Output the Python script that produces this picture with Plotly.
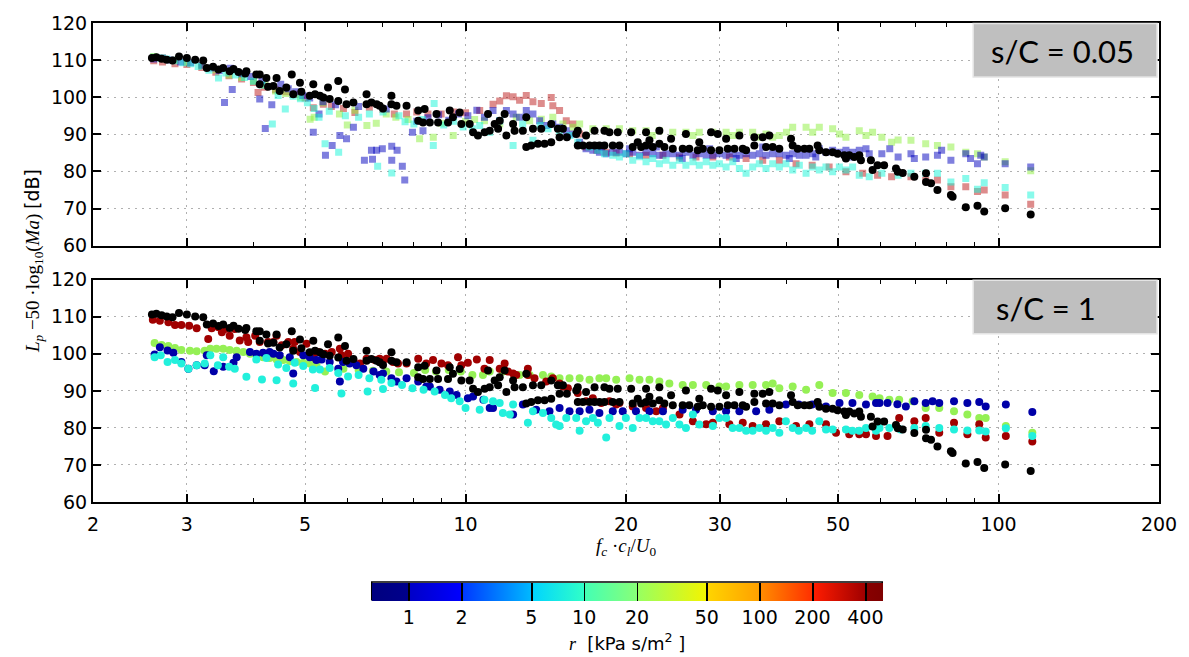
import numpy as np
import plotly.graph_objects as go

# ---------------- data (x = f_c*c_l/U_0, y = Lp - 50 log10(Ma) [dB]) ----------------
black_ref = [(2.58,110.6),(2.63,110.8),(2.69,110.4),(2.75,110.1),(2.82,109.9),(2.90,111.0),(3.00,110.6),(3.11,110.1),(3.22,109.9),(3.27,107.9),(3.36,108.2),(3.44,107.5),(3.51,107.9),(3.61,107.0),(3.67,107.6),(3.75,106.8),(3.86,106.4),(3.88,107.0),(4.05,106.1),(4.11,106.1),(4.11,103.5),(4.23,105.2),(4.26,102.8),(4.36,103.0),(4.42,105.2),(4.48,101.7),(4.61,102.6),(4.72,106.1),(4.75,100.8),(4.89,103.9),(4.92,101.5),(5.10,100.4),(5.18,103.5),(5.22,100.8),(5.33,100.4),(5.41,99.9),(5.52,102.6),(5.56,99.5),(5.77,104.4),(5.77,99.0),(5.94,102.1),(5.98,98.1),(6.16,98.6),(6.52,100.8),(6.52,98.1),(6.66,98.6),(6.81,98.1),(6.90,97.7),(7.00,97.0),(7.26,100.4),(7.26,98.1),(7.42,97.7),(7.75,97.7),(8.15,96.4),(8.15,93.7),(8.32,93.2),(8.38,96.8),(8.57,93.2),(8.82,95.5),(8.88,93.2),(9.27,93.2),(9.34,96.4),(9.47,94.6),(9.75,95.9),(9.82,92.8),(10.18,92.8),(10.33,90.6),(10.55,89.7),(10.86,90.6),
             (11.02,95.5),(11.10,91.0),(11.34,92.8),(11.51,91.5),(11.59,93.7),(11.84,95.5),(11.93,89.7),(12.28,92.8),(12.36,91.0),(12.81,91.0),(13.00,94.6),(13.00,86.6),(13.28,87.0),(13.38,91.5),(13.67,87.5),(13.87,91.5),(14.07,87.5),(14.48,87.9),(14.48,92.8),(14.90,91.5),(15.01,89.2),(15.23,91.5),(15.49,89.2),(16.13,90.1),(16.24,91.0),(16.24,87.0),(16.60,87.0),(16.83,89.7),(17.08,87.0),(17.46,91.0),(17.46,87.0),(17.83,87.0),(18.22,91.0),(18.22,87.0),(18.62,90.6),(18.89,87.0),(19.30,90.6),(19.44,87.0),(20.45,90.6),(20.59,86.6),(21.04,87.9),(21.35,86.6),(21.81,90.6),(21.81,87.0),(22.13,88.4),(22.45,86.6),(23.10,91.0),(23.10,87.5),(23.61,86.6),(24.30,88.8),(24.48,86.1),(25.55,86.1),(25.91,90.1),(26.29,86.1),(27.26,85.7),(27.45,87.9),(27.87,86.1),(28.88,90.6),(28.88,85.7),(29.73,90.1),(29.94,85.7),(30.82,88.8),(31.04,86.1),(31.95,86.1),(32.64,89.7),(33.12,86.1),(33.60,85.7),(34.82,89.2),(34.82,87.0),(36.10,89.2),(36.62,86.6),(37.15,89.7),(37.69,86.6),(38.79,86.1),(40.80,88.8),(41.09,87.0),(41.99,86.1),(43.22,86.1),(44.16,86.1),(45.77,87.0),(46.10,85.7),(47.45,85.2),(48.83,85.2),(49.89,84.8),(51.35,84.4),(51.72,83.5),(52.47,84.4),(53.62,83.9),(54.79,84.4),(55.18,83.0),(57.61,83.0),(58.03,80.4),(59.30,81.7),
             (61.0,81.7),(64.2,80.8),(64.7,79.9),(66.1,79.6),(69.5,78.6),(73.1,79.5),(73.1,77.2),(74.7,76.8),(76.8,75.0),(81.4,73.7),(82.0,73.2),(86.8,70.4),(91.3,70.8),(94.0,69.2),(102.9,70.1),(114.9,68.4)]

# s/C = 0.05 (top panel)
top_navy = [(2.60,110.3),(2.70,110.6),(2.80,110.0),(2.92,109.5),(3.05,109.3),(3.20,108.6),(3.35,107.9),(3.45,107.2),(3.53,98.6),(3.62,107.8),(3.65,102.1),(3.80,106.3),(3.95,105.6),(4.11,99.5),(4.15,104.5),(4.21,91.6),(4.33,98.0),(4.50,103.5),(4.65,102.3),(4.80,101.5),(4.95,100.5),(5.10,99.8),(5.18,90.6),(5.31,95.5),(5.40,98.8),(5.46,84.4),(5.62,87.0),(5.70,98.0),(5.81,89.7),(5.98,88.8),(6.16,91.9),(6.30,97.5),(6.46,83.0),(6.66,85.7),(6.69,83.3),(6.81,85.7),(6.98,86.1),(7.10,96.8),(7.27,86.8),(7.27,83.0),(7.44,85.7),(7.61,81.4),(7.69,77.7),(7.95,90.6),(8.10,93.5),(8.32,91.0),(8.50,94.5),(8.90,95.3),(9.30,93.8),(9.70,95.5),(10.10,95.0),(10.50,96.5),(10.85,94.6),(11.26,96.4),(11.59,93.7),(11.93,96.4),(12.28,95.5),(12.63,94.6),(13.00,96.4),(13.38,95.5),(13.77,93.7),(14.17,92.4),(14.58,92.8),(15.01,91.9),(15.45,91.0),(15.90,90.1),(16.37,87.9),(16.83,86.1),(17.33,85.7),(17.83,85.2),(18.36,84.8),(18.89,85.2),(19.44,85.2),(20.01,84.8),(20.59,85.2),(21.20,84.4),(21.81,85.2),(22.45,84.8),(23.10,84.4),(23.78,84.8),(24.48,84.8),(25.19,84.4),(25.91,85.2),(26.70,84.4),(27.45,84.8),(28.28,84.4),(29.10,84.4),(29.94,84.8),(30.82,84.4),(31.72,84.8),(32.64,84.4),(33.60,84.8),(34.57,84.4),(35.58,84.8),(36.62,84.4),(37.69,84.8),(38.79,84.8),(39.92,84.4),(41.09,84.8),(42.29,84.4),(43.54,84.4),(44.80,84.8),(46.10,86.1),(47.45,85.2),(48.83,85.7),(50.27,85.2),(51.72,85.7),(53.24,85.2),(54.79,85.7),(57.20,84.8),(60.40,84.8),(64.80,83.9),(68.50,84.8),(73.00,83.9),(76.80,84.4),(81.40,83.0),(86.80,84.8),(91.30,82.1),(94.00,83.9),(102.9,82.1),(114.9,81.2),
            (18.0,86.6),(20.3,86.1),(22.8,86.6),(25.5,83.5),(28.7,86.1),(32.2,83.5),(36.1,86.6),(40.5,83.5),(45.4,83.9),(52.5,83.9),(56.4,86.1),(62.5,86.1),(69.5,83.5),(78.2,85.7),(88.6,83.5),(92.6,84.4)]

top_cyan = [(2.60,110.8),(2.68,110.5),(2.75,110.3),(2.85,109.8),(2.95,109.3),(3.05,109.0),(3.15,108.3),(3.30,107.3),(3.44,105.2),(3.55,106.5),(3.70,106.0),(3.85,105.3),(4.00,104.3),(4.15,103.3),(4.34,92.8),(4.45,100.5),(4.59,96.8),(4.75,100.3),(4.90,99.6),(5.05,98.5),(5.20,97.0),(5.31,94.6),(5.45,87.5),(5.55,96.2),(5.78,85.2),(5.95,95.0),(6.30,94.6),(6.60,95.5),(6.84,81.4),(7.00,96.0),(7.27,79.6),(7.50,95.0),(7.70,93.4),(8.00,92.8),(8.30,94.0),(8.70,87.0),(8.73,98.3),(9.10,92.5),(9.50,93.5),(9.90,92.0),(10.30,91.5),(10.63,92.4),(11.10,90.6),(11.59,93.7),(12.28,87.0),(12.80,92.8),(13.38,88.4),(13.80,92.4),(14.28,91.5),(15.00,91.0),(15.70,89.7),(16.24,87.9),(17.08,86.6),(17.70,85.7),(18.22,84.8),(18.89,84.4),(19.44,83.9),(20.00,84.8),(20.59,83.0),(21.20,84.0),(21.81,82.6),(22.45,83.5),(23.10,82.1),(23.78,83.0),(24.48,81.7),(25.19,83.0),(25.91,81.7),(26.70,82.6),(27.45,81.7),(28.28,82.6),(29.10,81.7),(29.94,82.1),(30.82,81.2),(31.72,82.6),(32.64,80.8),(33.60,79.5),(34.57,81.2),(35.58,82.1),(36.62,80.8),(37.69,82.1),(38.79,81.2),(39.92,82.1),(41.09,80.4),(42.29,81.7),(43.54,79.5),(44.80,81.2),(46.10,80.4),(47.45,81.2),(48.83,79.9),(50.27,81.2),(51.72,80.4),(53.24,81.2),(54.79,79.0),(57.20,78.6),(60.40,79.5),(64.80,79.0),(68.50,79.5),(73.00,79.5),(76.80,79.5),(81.40,77.2),(86.80,78.1),(91.30,75.2),(94.00,77.0),(102.9,75.7),(114.9,73.7)]

top_green = [(2.60,111.0),(2.70,110.6),(2.85,110.0),(3.00,109.5),(3.20,108.6),(3.40,107.4),(3.60,106.0),(3.80,105.3),(4.00,104.4),(4.20,103.3),(4.40,101.7),(4.60,101.0),(4.90,100.0),(5.11,94.1),(5.20,94.6),(5.40,98.5),(5.80,95.5),(6.00,92.5),(6.20,96.5),(6.53,92.4),(6.80,93.0),(7.10,95.5),(7.40,94.6),(7.80,94.0),(8.20,88.8),(8.70,89.2),(9.00,93.0),(9.48,89.7),(10.00,93.5),(10.40,94.0),(10.85,93.7),(11.59,92.8),(12.45,94.6),(13.19,93.7),(13.87,94.1),(14.58,94.6),(15.23,92.8),(15.90,91.9),(16.37,92.8),(17.33,91.5),(18.36,91.5),(19.44,91.5),(20.59,91.0),(21.81,91.0),(23.10,91.0),(24.48,90.6),(25.91,90.6),(27.45,90.6),(29.10,90.6),(30.82,90.6),(32.64,90.6),(34.57,90.6),(36.62,90.1),(37.69,89.2),(38.79,89.7),(41.09,91.9),(43.54,91.9),(46.10,91.9),(48.83,91.5),(51.72,89.2),(54.79,91.0),(58.03,90.6),(60.40,89.2),(63.00,87.9),(64.80,88.5),(68.50,88.4),(73.00,87.5),(76.80,87.0),(81.40,86.6),(86.80,85.2),(91.30,84.8),(94.00,83.9),(102.9,82.6),(114.9,80.2),
             (22.4,89.7),(26.7,89.7),(31.7,89.7),(35.6,89.2),(40.0,90.6),(44.8,90.6),(50.3,90.1),(56.4,89.7)]

top_red = [(2.60,109.8),(2.70,109.5),(2.85,109.0),(3.00,108.8),(3.20,108.0),(3.40,106.7),(3.60,105.8),(3.80,104.9),(4.00,104.0),(4.08,101.3),(4.20,102.7),(4.40,102.0),(4.60,101.5),(4.80,100.8),(5.00,99.8),(5.18,97.2),(5.41,98.1),(5.60,97.5),(5.90,97.0),(6.20,95.9),(6.60,97.3),(7.00,96.7),(7.35,95.5),(7.75,95.5),(8.10,96.0),(8.50,95.5),(9.00,95.5),(9.50,96.0),(10.00,95.8),(10.63,96.4),(11.26,98.1),(11.59,99.0),(11.93,100.4),(12.28,100.1),(12.63,99.2),(13.00,100.5),(13.38,98.8),(13.87,98.3),(14.48,99.9),(14.58,97.7),(15.01,96.4),(15.45,93.7),(15.90,92.8),(16.37,90.1),(16.83,86.6),(17.64,85.7),(18.36,85.2),(19.17,85.0),(20.31,84.8),(21.81,84.4),(23.46,84.4),(25.19,83.9),(27.06,83.9),(29.10,83.9),(31.26,83.9),(33.60,83.5),(36.10,83.0),(38.79,83.0),(41.69,82.1),(44.70,81.7),(48.10,81.2),(51.72,79.9),(55.60,79.5),(59.30,79.0),(63.00,78.6),(68.50,78.6),(73.00,77.7),(76.80,77.7),(81.40,75.9),(86.80,75.9),(91.30,74.6),(94.00,75.0),(102.9,73.7),(114.9,71.2)]

# s/C = 1 (bottom panel)
bot_navy = [(2.61,99.8),(2.67,101.8),(2.76,100.9),(2.83,100.3),(2.93,97.8),(3.02,96.0),(3.13,96.9),(3.24,96.9),(3.27,99.6),(3.37,95.3),(3.51,96.5),(3.67,97.6),(3.72,99.1),(3.94,100.5),(4.05,100.0),(4.17,100.3),(4.29,100.5),(4.36,100.0),(4.48,99.6),(4.68,99.1),(4.75,94.7),(4.96,99.6),(5.10,99.1),(5.25,98.3),(5.37,98.5),(5.56,97.8),(5.77,96.0),(5.81,92.5),(5.89,97.8),(6.06,97.4),(6.24,96.9),(6.43,96.0),(6.72,95.2),(6.90,94.3),(7.00,94.7),(7.26,93.4),(7.42,92.5),(7.75,93.4),(8.15,92.5),(8.44,91.2),(8.57,91.2),(8.94,90.3),(9.34,89.8),(9.62,88.9),(10.10,88.0),(10.33,88.5),(10.80,87.6),(11.10,85.4),(11.26,85.4),(12.28,83.6),(12.81,86.3),(13.57,84.9),(14.37,84.5),(15.01,85.4),(15.67,84.5),(16.37,84.5),(17.08,84.9),(17.83,84.0),(18.89,84.5),(19.72,84.5),(20.88,84.5),(22.13,84.5),(23.46,84.5),(25.55,84.9),(27.06,84.9),(29.10,84.5),(30.82,84.5),(32.64,84.5),(35.09,84.5),(37.15,84.9),(39.90,86.3),(42.20,86.3),(44.70,86.3),(47.45,85.8),(50.30,86.7),(53.20,86.7),(56.40,86.3),(58.90,86.7),(59.80,86.7),(61.90,86.7),(64.60,86.4),(67.00,85.8),(69.50,87.2),(73.00,86.7),(75.20,87.2),(77.40,86.7),(82.50,87.2),(87.40,86.7),(92.00,87.0),(94.60,85.8),(103.2,86.3),(115.7,84.3)]

bot_cyan = [(2.61,99.1),(2.68,99.6),(2.76,97.8),(2.85,98.3),(2.93,97.4),(3.02,96.0),(3.13,96.9),(3.24,97.4),(3.32,99.6),(3.43,96.9),(3.51,99.1),(3.60,96.5),(3.69,96.0),(3.88,93.8),(4.05,98.5),(4.15,93.1),(4.23,98.9),(4.42,92.9),(4.45,97.1),(4.61,96.2),(4.75,92.0),(4.78,97.6),(4.96,96.7),(5.17,95.8),(5.22,90.8),(5.33,95.8),(5.56,96.2),(5.77,94.8),(5.85,89.3),(6.02,93.9),(6.30,94.3),(6.55,89.8),(6.60,93.4),(6.95,93.0),(7.00,90.5),(7.26,92.1),(7.60,91.6),(7.95,90.7),(8.34,90.3),(8.75,89.8),(9.15,88.9),(9.40,88.0),(9.75,87.2),(10.00,85.4),(10.63,84.9),(10.85,87.6),(11.26,87.2),(11.59,86.7),(11.75,84.0),(12.11,83.6),(12.28,86.3),(13.09,81.4),(13.38,84.5),(13.97,84.0),(14.48,82.7),(14.79,80.9),(15.01,80.5),(15.45,82.7),(16.13,82.7),(16.37,79.2),(16.83,81.8),(17.33,82.7),(17.71,81.4),(18.36,77.4),(18.62,82.7),(19.44,80.5),(19.99,82.7),(20.59,80.0),(21.20,82.7),(21.81,82.7),(22.45,81.8),(23.10,81.8),(23.78,80.9),(24.48,82.7),(25.19,80.9),(25.91,80.0),(26.70,83.6),(27.45,80.9),(29.10,80.5),(29.94,82.7),(30.82,82.7),(31.70,80.0),(32.64,80.0),(33.60,79.2),(34.57,79.2),(35.60,80.0),(36.62,79.2),(37.69,80.0),(38.79,78.7),(39.90,81.8),(41.09,80.0),(42.20,79.2),(43.54,80.0),(44.70,79.2),(46.10,81.8),(47.45,79.6),(48.83,79.6),(51.72,79.6),(53.20,79.2),(54.79,79.2),(56.40,80.0),(58.90,79.2),(59.80,80.0),(62.40,80.0),(65.50,79.6),(69.50,80.0),(73.00,80.5),(77.40,80.0),(82.50,79.6),(87.40,79.3),(92.00,79.3),(94.60,79.0),(103.2,79.9),(115.7,77.8)]

bot_green = [(2.61,102.9),(2.69,102.4),(2.77,102.1),(2.85,101.6),(2.93,101.0),(3.04,100.8),(3.13,100.7),(3.24,100.8),(3.32,101.4),(3.41,101.4),(3.51,101.4),(3.61,101.0),(3.72,100.8),(3.83,100.5),(3.94,100.0),(4.05,99.6),(4.17,99.1),(4.29,98.9),(4.42,98.5),(4.55,98.3),(4.68,98.0),(4.82,97.8),(4.96,97.6),(5.10,97.4),(5.25,97.1),(5.45,95.2),(5.90,96.0),(6.30,95.6),(6.70,95.4),(7.10,95.2),(7.50,95.0),(8.00,94.8),(8.40,95.6),(8.80,95.2),(9.30,95.6),(9.80,95.2),(10.30,94.3),(10.78,94.3),(11.10,95.2),(11.75,95.2),(12.63,94.3),(13.19,94.3),(13.97,94.3),(14.48,93.9),(15.01,93.4),(15.67,93.4),(16.37,93.4),(17.08,93.0),(17.83,93.4),(18.36,93.4),(19.17,93.0),(20.31,93.4),(21.20,93.0),(22.13,93.0),(23.10,92.5),(24.12,92.0),(25.55,91.6),(26.70,91.6),(28.28,91.6),(29.94,91.2),(30.82,91.2),(32.64,91.6),(34.57,91.6),(36.62,91.6),(37.69,92.0),(38.79,90.7),(41.09,91.2),(43.54,90.3),(46.10,91.6),(48.83,89.4),(51.72,89.4),(54.79,88.9),(58.03,88.5),(59.80,88.0),(62.40,87.6),(65.10,87.6),(69.00,87.2),(73.00,85.4),(77.40,85.4),(82.50,84.5),(87.40,83.6),(92.00,82.7),(94.60,82.7),(103.2,80.5),(115.7,78.7)]

bot_red = [(2.59,109.2),(2.67,108.9),(2.77,108.5),(2.85,107.8),(2.93,107.8),(3.03,107.6),(3.13,106.9),(3.29,104.0),(3.34,106.9),(3.44,107.2),(3.49,105.8),(3.54,106.7),(3.61,104.9),(3.69,106.7),(3.77,103.6),(3.88,104.5),(3.91,103.2),(4.03,104.9),(4.11,103.2),(4.26,103.2),(4.36,103.2),(4.42,104.9),(4.52,102.3),(4.65,103.2),(4.75,101.4),(4.78,103.2),(4.89,100.5),(5.03,102.7),(5.18,99.1),(5.29,100.5),(5.45,100.0),(5.61,100.5),(5.81,101.4),(5.85,99.6),(6.02,100.0),(6.16,98.3),(6.34,97.4),(6.52,98.7),(6.76,98.3),(6.90,98.7),(7.11,98.7),(7.31,97.8),(7.47,97.4),(7.75,97.4),(8.15,98.7),(8.44,97.4),(8.69,98.3),(9.01,97.4),(9.27,96.9),(9.68,99.1),(9.82,96.9),(10.10,97.6),(10.50,98.5),(10.85,96.0),(11.10,98.3),(11.59,96.0),(11.84,97.4),(12.01,95.2),(12.28,94.7),(12.45,94.3),(13.09,96.0),(13.09,94.3),(13.47,93.4),(14.17,92.5),(14.58,93.4),(15.01,92.0),(15.23,91.2),(15.56,90.7),(16.24,89.4),(16.83,87.2),(17.33,88.0),(17.97,86.7),(18.62,87.2),(19.17,86.3),(19.44,86.7),(20.59,85.8),(21.81,85.4),(22.79,84.5),(23.46,85.4),(25.20,83.6),(26.70,81.8),(28.28,81.0),(29.10,81.4),(31.26,81.0),(33.12,81.4),(34.57,80.5),(36.62,81.0),(38.79,81.8),(41.69,80.5),(44.16,81.0),(47.45,81.0),(49.55,78.7),(52.47,78.3),(54.79,78.3),(56.40,78.3),(58.90,77.8),(61.90,77.8),(65.10,82.7),(69.50,81.8),(73.00,82.7),(77.40,78.7),(82.50,81.4),(87.40,78.3),(92.00,81.0),(94.60,77.4),(103.2,77.8),(115.7,76.3)]

x_ticks = [2, 3, 5, 10, 20, 30, 50, 100, 200]
x_minor = [4, 6, 7, 8, 9, 40, 60, 70, 80, 90]
y_ticks = [60, 70, 80, 90, 100, 110, 120]
cb_ticks = [1, 2, 5, 10, 20, 50, 100, 200, 400]
cb_min, cb_max = 0.615, 502.0
panel_labels = ["s/C = 0.05", "s/C = 1"]

# ---------------- figure ----------------
def xy(pairs):
    return [p[0] for p in pairs], [p[1] for p in pairs]

fig = go.Figure()

top_series = [(top_red, 'rgba(180,0,0,0.45)'), (top_green, 'rgba(140,240,60,0.5)'),
              (top_navy, 'rgba(0,0,190,0.5)'), (top_cyan, 'rgba(20,245,215,0.5)')]
for data, col in top_series:
    x, y = xy(data)
    fig.add_trace(go.Scatter(x=x, y=y, mode='markers', xaxis='x', yaxis='y',
                             marker=dict(symbol='square', size=7, color=col, line=dict(width=0)),
                             showlegend=False, hoverinfo='skip'))
x, y = xy(black_ref)
fig.add_trace(go.Scatter(x=x, y=y, mode='markers', xaxis='x', yaxis='y',
                         marker=dict(symbol='circle', size=8, color='black', line=dict(width=0)),
                         showlegend=False, hoverinfo='skip'))

bot_series = [(bot_green, '#95f055'), (bot_red, '#a00000'), (bot_navy, '#0000a8'), (bot_cyan, '#22f0dc')]
for data, col in bot_series:
    x, y = xy(data)
    fig.add_trace(go.Scatter(x=x, y=y, mode='markers', xaxis='x2', yaxis='y2',
                             marker=dict(symbol='circle', size=8, color=col, line=dict(width=0)),
                             showlegend=False, hoverinfo='skip'))
x, y = xy(black_ref)
fig.add_trace(go.Scatter(x=x, y=y, mode='markers', xaxis='x2', yaxis='y2',
                         marker=dict(symbol='circle', size=8, color='black', line=dict(width=0)),
                         showlegend=False, hoverinfo='skip'))

# colour bar (log r, jet-like with black edges at tick boundaries)
lo, hi = np.log10(cb_min), np.log10(cb_max)
bounds = [lo] + [np.log10(t) for t in cb_ticks] + [hi]
seg_cols = [('#00007f', '#00008c'), ('#0000c8', '#0000ff'), ('#0038ff', '#00b8ff'),
            ('#00d4ff', '#30ffc8'), ('#44ffb4', '#88ff78'), ('#98ff60', '#f4f400'),
            ('#ffd400', '#ffa000'), ('#ff8c00', '#ff3000'), ('#ff1c00', '#a00000'),
            ('#880000', '#7f0000')]
w = 0.0016
frac = [(b - lo) / (hi - lo) for b in bounds]
cscale = []
for i, (c0, c1) in enumerate(seg_cols):
    f0, f1 = frac[i], frac[i + 1]
    s = f0 if i == 0 else f0 + w
    e = f1 if i == len(seg_cols) - 1 else f1 - w
    if i > 0:
        cscale.append([s, 'black'])
    cscale.append([s, c0])
    cscale.append([e, c1])
    if i < len(seg_cols) - 1:
        cscale.append([e, 'black'])
cscale[0][0] = 0.0
cscale[-1][0] = 1.0

fig.add_trace(go.Scatter(
    x=[1000], y=[0], mode='markers', xaxis='x2', yaxis='y2', showlegend=False, hoverinfo='skip',
    marker=dict(color=[lo], cmin=lo, cmax=hi, colorscale=cscale, opacity=0, showscale=True,
                colorbar=dict(orientation='h', thickness=18, len=511, lenmode='pixels',
                              x=699.5 / 1189, xref='container', xanchor='center',
                              y=1 - 583 / 657, yref='container', yanchor='top',
                              xpad=0, ypad=0, outlinewidth=0,
                              tickvals=[np.log10(t) for t in cb_ticks],
                              ticktext=[str(t) for t in cb_ticks], ticks='',
                              tickfont=dict(family='DejaVu Sans', size=19, color='black'),
                              title=dict(text='<span style="font-family:Liberation Serif"><i>r</i></span>  [kPa s/m<sup>2</sup> ]',
                                         side='bottom',
                                         font=dict(family='DejaVu Sans', size=18, color='black'))))))

# outline of the colour bar
fig.add_shape(type='rect', xref='paper', yref='paper',
              x0=(372 - 93) / 1067, x1=(883 - 93) / 1067,
              y0=(502 - 601) / 485, y1=(502 - 583) / 485,
              line=dict(color='black', width=1.5), fillcolor='rgba(0,0,0,0)', layer='above')

axis_common = dict(showline=True, linecolor='black', linewidth=2, mirror='ticks',
                   ticks='inside', ticklen=8, tickwidth=1.5, tickcolor='black',
                   showgrid=True, gridcolor='#b0b0b0', griddash='2px,5px', gridwidth=1,
                   zeroline=False, tickfont=dict(family='DejaVu Sans', size=19, color='black'))
xcommon = dict(axis_common, type='log', range=[np.log10(2), np.log10(200)],
               tickmode='array', tickvals=x_ticks, ticktext=[str(t) for t in x_ticks],
               minor=dict(tickmode='array', tickvals=x_minor, ticks='inside', ticklen=4,
                          tickwidth=1.2, tickcolor='black', showgrid=False))
ycommon = dict(axis_common, range=[60, 120], tickmode='array', tickvals=y_ticks)

fig.update_layout(
    width=1189, height=657,
    margin=dict(l=93, r=29, t=17, b=155),
    paper_bgcolor='white', plot_bgcolor='white',
    xaxis=dict(xcommon, domain=[0, 1], anchor='y', showticklabels=False),
    yaxis=dict(ycommon, domain=[0.535, 1.0], anchor='x'),
    xaxis2=dict(xcommon, domain=[0, 1], anchor='y2', showticklabels=True, ticklabelstandoff=4),
    yaxis2=dict(ycommon, domain=[0.0, 0.464], anchor='x2'),
)

# panel label boxes
for yref, xref, txt, tx, anchor in [('y domain', 'x domain', panel_labels[0], 0.9096, 'center'),
                                     ('y2 domain', 'x2 domain', panel_labels[1], 0.8454, 'left')]:
    fig.add_shape(type='rect', xref=xref, yref=yref, x0=0.8257, x1=0.9981, y0=0.757, y1=0.998,
                  fillcolor='#bfbfbf', line=dict(color='#e4e4e4', width=1.5), layer='above')
    fig.add_annotation(xref=xref, yref=yref, x=tx, y=0.875, xanchor=anchor, yanchor='middle',
                       text=txt, showarrow=False,
                       font=dict(family='Lato', size=31, color='black'))

# axis titles
fig.add_annotation(xref='paper', yref='paper', x=0.5, y=(502 - 548) / 485, xanchor='center', yanchor='middle',
                   showarrow=False,
                   text='<i>f</i><sub><i>c</i></sub> ·<i>c</i><sub><i>l</i></sub>/<i>U</i><sub>0</sub>',
                   font=dict(family='Liberation Serif', size=19, color='black'))
fig.add_annotation(xref='paper', yref='paper', x=(33 - 93) / 1067, y=(502 - 258) / 485,
                   xanchor='center', yanchor='middle', textangle=-90, showarrow=False,
                   text='<i>L</i><sub><i>p</i></sub> −50 ·log<sub>10</sub>(<i>Ma</i>) '
                        '<span style="font-family:DejaVu Sans">[dB]</span>',
                   font=dict(family='Liberation Serif', size=19, color='black'))

fig.write_html("out.html")
